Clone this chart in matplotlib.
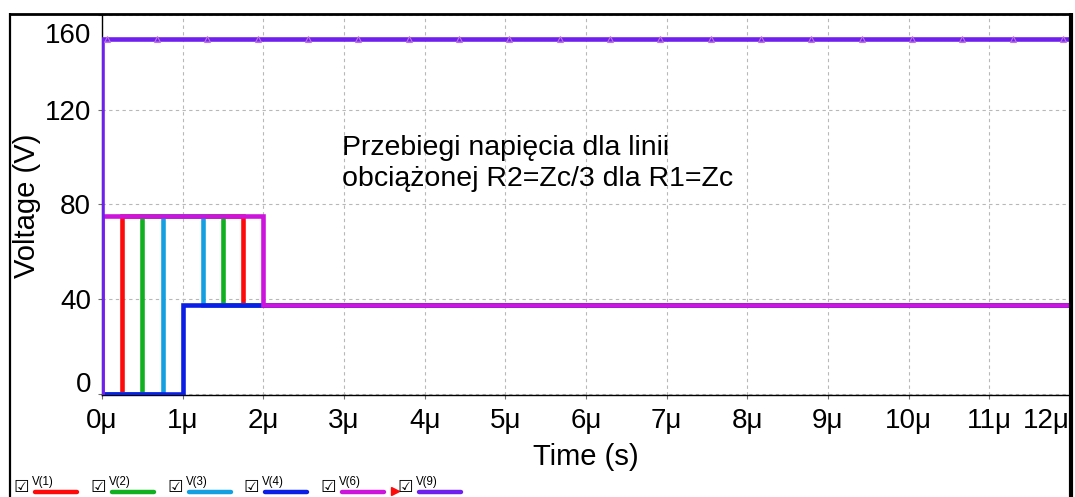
import numpy as np
import matplotlib
matplotlib.use("Agg")
import matplotlib.pyplot as plt
from matplotlib.transforms import ScaledTranslation

plt.rcParams['font.family'] = ['Liberation Sans', 'DejaVu Sans']

# ---- data (time in microseconds, voltage in volts) ----
t_v1 = [0, 0.25, 1.75, 12]
v_v1 = [0, 75, 37.5, 37.5]
t_v2 = [0, 0.5, 1.5, 12]
v_v2 = [0, 75, 37.5, 37.5]
t_v3 = [0, 0.75, 1.25, 12]
v_v3 = [0, 75, 37.5, 37.5]
t_v4 = [0, 1, 12]
v_v4 = [0, 37.5, 37.5]
t_v6 = [0, 0, 2, 12]
v_v6 = [0, 75, 37.5, 37.5]
t_v9 = [0, 0, 12]
v_v9 = [0, 150, 150]

series_names = ['V(1)', 'V(2)', 'V(3)', 'V(4)', 'V(6)', 'V(9)']
x_ticks = [0, 1, 2, 3, 4, 5, 6, 7, 8, 9, 10, 11, 12]
x_tick_labels = ['0μ', '1μ', '2μ', '3μ', '4μ', '5μ', '6μ', '7μ', '8μ', '9μ', '10μ', '11μ', '12μ']
y_ticks = [0, 40, 80, 120, 160]
y_tick_labels = ['0', '40', '80', '120', '160']
annotation_lines = ['Przebiegi napięcia dla linii', 'obciążonej R2=Zc/3 dla R1=Zc']

# ---- styles ----
colors = ['#ff0a0a', '#10b020', '#14a0e0', '#0a1ee6', '#cc14dc', '#7020ee']
LW = 3.3

W, H = 1075, 497
fig = plt.figure(figsize=(W / 100, H / 100), dpi=100)
fig.patch.set_facecolor('white')

ax_left, ax_right, ax_top, ax_bot = 102, 1070, 15, 395
ax = fig.add_axes([ax_left / W, 1 - ax_bot / H, (ax_right - ax_left) / W, (ax_bot - ax_top) / H])
ax.set_xlim(0, 12)
ax.set_ylim(-0.63, 160)

series = [(t_v1, v_v1), (t_v2, v_v2), (t_v3, v_v3), (t_v4, v_v4), (t_v6, v_v6), (t_v9, v_v9)]
for (t, v), c in zip(series, colors):
    ax.plot(t, v, drawstyle='steps-post', color=c, lw=LW, solid_capstyle='butt',
            solid_joinstyle='miter', zorder=3)

# small triangle markers along the V(9) trace
mark_t = np.arange(0.056, 12.0, 0.624)
mark_v = np.interp(mark_t, t_v9[1:], v_v9[1:])
ax.plot(mark_t, mark_v, linestyle='none', marker='^', markersize=4.5,
        markerfacecolor='none', markeredgecolor='#c070e0', markeredgewidth=0.8, zorder=4)

ax.set_xticks(x_ticks)
ax.set_xticklabels(x_tick_labels)
ax.set_yticks(y_ticks)
ax.set_yticklabels(y_tick_labels)
ax.grid(True, color='#b8b8b8', linestyle=(0, (3, 3)), linewidth=0.8, zorder=0)
ax.set_axisbelow(True)
for s in ['top', 'right']:
    ax.spines[s].set_visible(False)
for s in ['left', 'bottom']:
    ax.spines[s].set_color('black')
    ax.spines[s].set_linewidth(1.0)
ax.tick_params(axis='both', direction='out', length=3, width=0.8, color='#707070',
               labelsize=20, pad=5)
ax.tick_params(axis='x', pad=6)

ylabels = ax.get_yticklabels()
ylabels[-1].set_va('top')
ylabels[-1].set_transform(ylabels[-1].get_transform() + ScaledTranslation(0, -8 / 100, fig.dpi_scale_trans))
ylabels[0].set_va('baseline')
ylabels[0].set_transform(ylabels[0].get_transform() + ScaledTranslation(0, 2 / 100, fig.dpi_scale_trans))
xlabels = ax.get_xticklabels()
xlabels[-1].set_ha('right')

# annotation text
fig.text(342 / W, 1 - 155 / H, annotation_lines[0], fontsize=20.5, va='baseline', ha='left')
fig.text(342 / W, 1 - 186 / H, annotation_lines[1], fontsize=20.5, va='baseline', ha='left')

# axis labels
fig.text(586 / W, 1 - 457 / H, 'Time (s)', fontsize=21, ha='center', va='center')
fig.text(27 / W, 1 - 206 / H, 'Voltage (V)', fontsize=21, ha='center', va='center', rotation=90)

# overlay for frame and legend
ov = fig.add_axes([0, 0, 1, 1], zorder=10)
ov.set_xlim(0, W)
ov.set_ylim(H, 0)
ov.axis('off')
ov.plot([10, 10], [13, H + 5], color='black', lw=1.6, solid_capstyle='butt')
ov.plot([10, 1071], [13.5, 13.5], color='black', lw=2.0, solid_capstyle='butt')
ov.plot([1071, 1071], [12.5, H + 5], color='black', lw=3.0, solid_capstyle='butt')

leg_x0 = 15
leg_step = 76.8
for i, (name, c) in enumerate(zip(series_names, colors)):
    x = leg_x0 + i * leg_step
    ov.text(x - 1.5, 496.5, '☑', fontsize=12.5, family='DejaVu Sans', ha='left', va='bottom')
    ov.text(x + 17, 485.5, name, fontsize=8.3, ha='left', va='baseline')
    ov.plot([x + 20, x + 62], [492, 492], color=c, lw=3.2, solid_capstyle='round')
ov.plot([395], [491], marker='>', color='#ff0a0a', markersize=6, linestyle='none')

fig.savefig('out.png', dpi=100, facecolor='white')
